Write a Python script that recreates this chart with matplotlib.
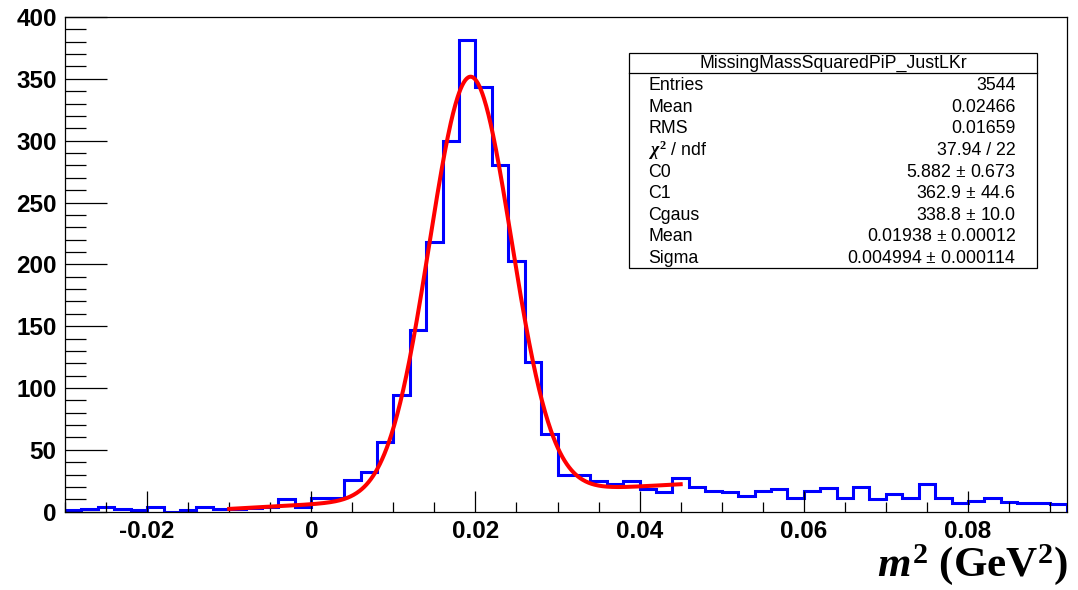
import numpy as np
import matplotlib
matplotlib.use("Agg")
import matplotlib.pyplot as plt
from matplotlib.ticker import MultipleLocator

plt.rcParams['mathtext.fontset'] = 'custom'
plt.rcParams['mathtext.rm'] = 'Liberation Serif:bold'
plt.rcParams['mathtext.it'] = 'Liberation Serif:italic:bold'
plt.rcParams['mathtext.bf'] = 'Liberation Serif:bold'

# ---- data ----
x_low = -0.03
bin_width = 0.002
counts = [1, 2, 4, 2, 1, 4, 0, 1, 4, 2,
          2, 3, 4, 10, 4, 11, 11, 26, 32, 56,
          94, 147, 218, 300, 381, 343, 280, 203, 121, 63,
          30, 30, 25, 22, 25, 18, 16, 27, 20, 17,
          16, 13, 17, 18, 11, 17, 19, 11, 20, 10,
          14, 11, 22, 11, 7, 9, 11, 8, 7, 7, 6]

# fit parameters (pol1 + gaus)
fit_C0 = 5.882
fit_C1 = 362.9
fit_Cgaus = 338.8
fit_mean = 0.01938
fit_sigma = 0.004994
fit_range = (-0.01, 0.045)

x_ticks = [-0.02, 0.0, 0.02, 0.04, 0.06, 0.08]
x_ticklabels = ['-0.02', '0', '0.02', '0.04', '0.06', '0.08']
y_ticks = [0, 50, 100, 150, 200, 250, 300, 350, 400]

stat_labels = ['Entries', 'Mean', 'RMS', r'$\chi^{2}$ / ndf', 'C0', 'C1', 'Cgaus', 'Mean', 'Sigma']
stat_values = ['3544', '0.02466', '0.01659', '37.94 / 22', '5.882 $\\pm$ 0.673',
               '362.9 $\\pm$ 44.6', '338.8 $\\pm$ 10.0', '0.01938 $\\pm$ 0.00012',
               '0.004994 $\\pm$ 0.000114']
stat_title = 'MissingMassSquaredPiP_JustLKr'

# ---- figure ----
W, H = 1078, 590
fig = plt.figure(figsize=(W / 100, H / 100), dpi=100)
ax = fig.add_axes([65 / W, (H - 511.7) / H, (1066.5 - 65) / W, (511.7 - 17) / H])

edges = x_low + bin_width * np.arange(len(counts) + 1)
ax.stairs(counts, edges, color=(0, 0, 1), linewidth=2.2, baseline=0)

xf = np.linspace(fit_range[0], fit_range[1], 600)
yf = fit_C0 + fit_C1 * xf + fit_Cgaus * np.exp(-0.5 * ((xf - fit_mean) / fit_sigma) ** 2)
ax.plot(xf, yf, color=(1, 0, 0), linewidth=2.9)

ax.set_xlim(edges[0], edges[-1])
ax.set_ylim(0, 400)
ax.set_xticks(x_ticks)
ax.set_xticklabels(x_ticklabels)
ax.set_yticks(y_ticks)
ax.xaxis.set_minor_locator(MultipleLocator(0.005))
ax.yaxis.set_minor_locator(MultipleLocator(10))
ax.tick_params(axis='both', which='both', direction='in', top=False, right=False, color='black')
ax.tick_params(axis='y', which='major', length=30, width=0.9, pad=6)
ax.tick_params(axis='y', which='minor', length=15, width=0.9)
ax.tick_params(axis='x', which='major', length=15, width=0.9, pad=6)
ax.tick_params(axis='x', which='minor', length=7.5, width=0.9)
for lab in ax.get_xticklabels() + ax.get_yticklabels():
    lab.set_fontfamily('Liberation Sans')
    lab.set_fontweight('bold')
    lab.set_fontsize(17.5)
for sp in ax.spines.values():
    sp.set_linewidth(0.9)
    sp.set_color('black')

# x-axis label
fig.text(1068 / W, (H - 576) / H, r'$\mathit{m}^{2}$ (GeV$^{2}$)', ha='right', va='baseline',
         fontsize=31, fontfamily='Liberation Serif', fontweight='bold')

# stats box (pixel coordinates converted to figure fraction)
bx0, bx1, by0, by1, byt = 629.3, 1037.3, 52.7, 267.7, 72.7
fig.add_artist(plt.Rectangle((bx0 / W, (H - by1) / H), (bx1 - bx0) / W, (by1 - by0) / H,
                             transform=fig.transFigure, facecolor='white', edgecolor='black',
                             linewidth=0.9))
fig.add_artist(plt.Line2D([bx0 / W, bx1 / W], [(H - byt) / H] * 2, transform=fig.transFigure,
                          color='black', linewidth=0.9))
fig.text((bx0 + bx1) / 2 / W, (H - 63) / H, stat_title, ha='center', va='center',
         fontsize=12.8, fontfamily='Liberation Sans')
row0, drow = 85.7, 21.58
for i, (lab, val) in enumerate(zip(stat_labels, stat_values)):
    yy = (H - (row0 + i * drow)) / H
    fig.text(648.3 / W, yy, lab, ha='left', va='center', fontsize=12.8, fontfamily='Liberation Sans')
    fig.text(1015.7 / W, yy, val, ha='right', va='center', fontsize=12.8, fontfamily='Liberation Sans')

fig.savefig('out.png', dpi=100)
